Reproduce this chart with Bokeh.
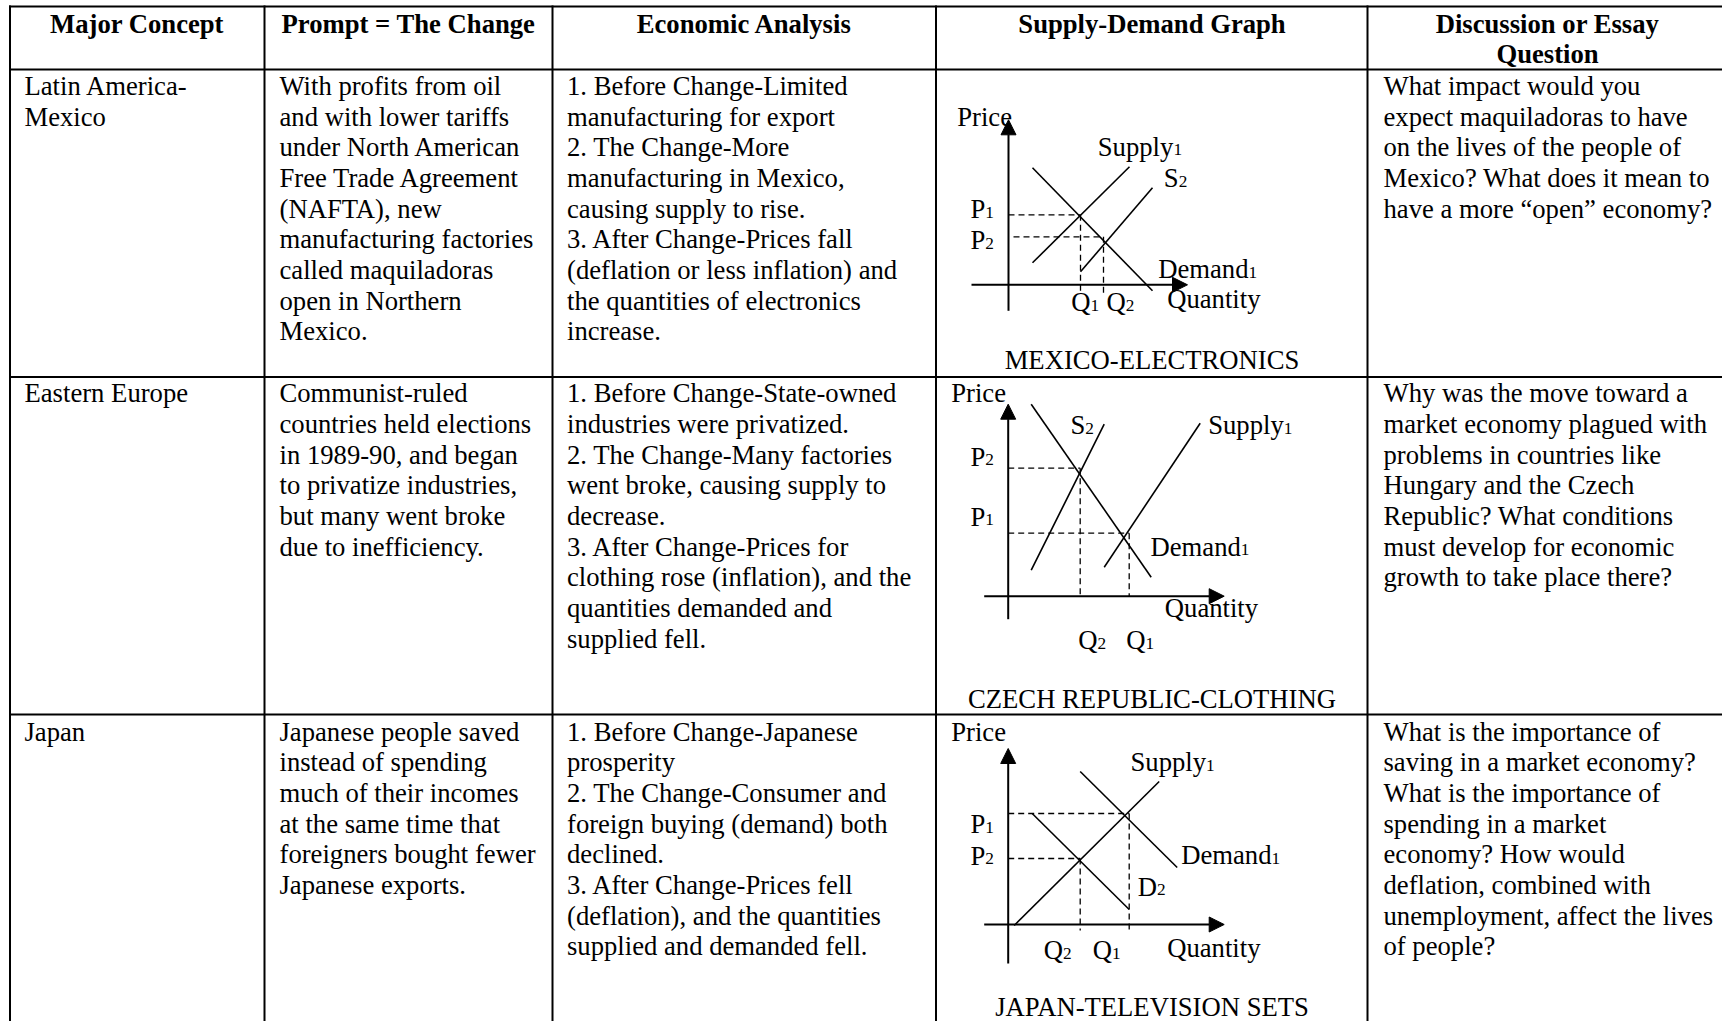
from bokeh.plotting import figure
from bokeh.models import Range1d, Arrow, NormalHead
from bokeh.core.properties import value
from bokeh.embed import file_html
from bokeh.resources import INLINE

# ---------------- table text ----------------
headers = [["Major Concept"], ["Prompt = The Change"], ["Economic Analysis"],
           ["Supply-Demand Graph"], ["Discussion or Essay", "Question"]]

concepts = [["Latin America-", "Mexico"], ["Eastern Europe"], ["Japan"]]

prompts = [
    ["With profits from oil", "and with lower tariffs", "under North American",
     "Free Trade Agreement", "(NAFTA), new", "manufacturing factories",
     "called maquiladoras", "open in Northern", "Mexico."],
    ["Communist-ruled", "countries held elections", "in 1989-90, and began",
     "to privatize industries,", "but many went broke", "due to inefficiency."],
    ["Japanese people saved", "instead of spending", "much of their incomes",
     "at the same time that", "foreigners bought fewer", "Japanese exports."],
]

analysis = [
    ["1. Before Change-Limited", "manufacturing for export", "2. The Change-More",
     "manufacturing in Mexico,", "causing supply to rise.", "3. After Change-Prices fall",
     "(deflation or less inflation) and", "the quantities of electronics", "increase."],
    ["1. Before Change-State-owned", "industries were privatized.",
     "2. The Change-Many factories", "went broke, causing supply to", "decrease.",
     "3. After Change-Prices for", "clothing rose (inflation), and the",
     "quantities demanded and", "supplied fell."],
    ["1. Before Change-Japanese", "prosperity", "2. The Change-Consumer and",
     "foreign buying (demand) both", "declined.", "3. After Change-Prices fell",
     "(deflation), and the quantities", "supplied and demanded fell."],
]

questions = [
    ["What impact would you", "expect maquiladoras to have", "on the lives of the people of",
     "Mexico? What does it mean to", "have a more \u201copen\u201d economy?"],
    ["Why was the move toward a", "market economy plagued with", "problems in countries like",
     "Hungary and the Czech", "Republic? What conditions", "must develop for economic",
     "growth to take place there?"],
    ["What is the importance of", "saving in a market economy?", "What is the importance of",
     "spending in a market", "economy? How would", "deflation, combined with",
     "unemployment, affect the lives", "of people?"],
]

graph_titles = ["MEXICO-ELECTRONICS", "CZECH REPUBLIC-CLOTHING", "JAPAN-TELEVISION SETS"]

# ---------------- graph data (quantity, price) in graph units ----------------
# Mexico - electronics: supply rises
mex_supply1 = [(24, 22), (121, 118)]
mex_supply2 = [(72, 13), (144, 97)]
mex_demand1 = [(24, 117), (144, -6)]
mex_P = [70, 48]          # P1, P2
mex_Q = [72, 95]          # Q1, Q2

# Czech Republic - clothing: supply falls
cz_supply1 = [(96, 29), (192, 173)]
cz_supply2 = [(23, 26), (96, 172)]
cz_demand1 = [(23, 192), (143, 19)]
cz_P = [63, 128]          # P1, P2
cz_Q = [121, 72]          # Q1, Q2

# Japan - television sets: demand falls
jp_supply1 = [(6, -1), (151, 143)]
jp_demand1 = [(72, 153), (169, 57)]
jp_demand2 = [(24, 111), (121, 15)]
jp_P = [111, 66]          # P1, P2
jp_Q = [121, 72]          # Q1, Q2

# ---------------- figure ----------------
FONT = "Liberation Serif"
FS = 26.67
SUB = 17.3
DY = -9  # baseline correction for rendered text

p = figure(width=1722, height=1021, x_range=Range1d(0, 1722), y_range=Range1d(1021, 0),
           toolbar_location=None, output_backend="svg", min_border=0,
           x_axis_type=None, y_axis_type=None)
p.outline_line_color = None
p.background_fill_color = "white"
p.border_fill_color = "white"

# table grid
col_x = [9.5, 264, 552, 935.5, 1367]
row_y = [6, 69, 376.5, 714]
p.segment(x0=[col_x[0] - 1] * len(row_y), y0=row_y, x1=[1722] * len(row_y), y1=row_y,
          line_color="black", line_width=2)
p.segment(x0=col_x, y0=[5] * len(col_x), x1=col_x, y1=[1021] * len(col_x),
          line_color="black", line_width=2)


def txt(xs, ys, texts, size=FS, align="left", style="normal"):
    p.text(x=xs, y=[y + DY for y in ys], text=texts, text_font=value(FONT),
           text_font_size=value(f"{size}px"),
           text_baseline="alphabetic", text_align=align, text_font_style=style,
           text_color="black")


LH = 30.67
# headers
hdr_cx = [136.5, 408, 744, 1151.5, 1547]
hx, hy, ht = [], [], []
for cx, lines in zip(hdr_cx, headers):
    for i, s in enumerate(lines):
        hx.append(cx); hy.append(32.3 + i * LH); ht.append(s)
txt(hx, hy, ht, align="center", style="bold")

# body cells
text_x = [24, 279, 566.5, None, 1383]
first_base = [94.5, 401.7, 740]
bx, by, bt = [], [], []
for r in range(3):
    for col, data in zip([0, 1, 2, 4], [concepts, prompts, analysis, questions]):
        for i, s in enumerate(data[r]):
            bx.append(text_x[col]); by.append(first_base[r] + i * LH); bt.append(s)
txt(bx, by, bt)

# graph titles
txt([1151.5] * 3, [368.3, 707.3, 1015], graph_titles, align="center")

# ---------------- graphs ----------------
W = {"Supply": 2834, "S": 556, "P": 556, "Q": 722, "D": 722, "Demand": 3388}


def label(name, sub, x, y):
    txt([x], [y], [name])
    if sub:
        txt([x + W[name] / 1000 * FS], [y + 3.3], [sub], size=SUB)


def draw_graph(ox, oy, curves, P, Q, pdash_start, qdash_end, yax, xax):
    X = lambda q: ox + q
    Y = lambda pr: oy - pr
    # axes with arrows
    for (qa, pa), (qb, pb) in [yax, xax]:
        p.add_layout(Arrow(end=NormalHead(size=15, fill_color="black", line_color="black",
                                          line_width=1),
                           x_start=X(qa), y_start=Y(pa), x_end=X(qb), y_end=Y(pb),
                           line_color="black", line_width=2))
    # curves
    p.segment(x0=[X(c[0][0]) for c in curves], y0=[Y(c[0][1]) for c in curves],
              x1=[X(c[1][0]) for c in curves], y1=[Y(c[1][1]) for c in curves],
              line_color="black", line_width=1.6)
    # dashed guides
    p.segment(x0=[X(s) for s in pdash_start], y0=[Y(v) for v in P],
              x1=[X(q) for q in Q], y1=[Y(v) for v in P],
              line_color="black", line_width=1.3, line_dash="6 4")
    p.segment(x0=[X(q) for q in Q], y0=[Y(v) for v in P],
              x1=[X(q) for q in Q], y1=[Y(e) for e in qdash_end],
              line_color="black", line_width=1.3, line_dash="6 4")


# Mexico
draw_graph(1008, 284.3, [mex_supply1, mex_supply2, mex_demand1], mex_P, mex_Q,
           [0, 5], [-6, -9], [(0, -26), (0, 165)], [(-37, 0), (179, 0)])
label("Price", None, 956.7, 125)
label("Supply", "1", 1097.3, 155)
label("S", "2", 1163.3, 186.7)
label("P", "1", 970, 217.7)
label("P", "2", 970, 248.3)
label("Demand", "1", 1157.7, 277.3)
label("Q", "1", 1070.7, 310.7)
label("Q", "2", 1106, 310.7)
label("Quantity", None, 1166.7, 307.3)

# Czech Republic
draw_graph(1007.7, 595.7, [cz_supply1, cz_supply2, cz_demand1], cz_P, cz_Q,
           [0, 0], [0, -1], [(0, -23), (0, 192)], [(-24, 0), (216, 0)])
label("Price", None, 950.7, 401.7)
label("S", "2", 1070, 433.3)
label("Supply", "1", 1207.7, 433.3)
label("P", "2", 970, 465)
label("P", "1", 970, 525)
label("Demand", "1", 1150, 555)
label("Quantity", None, 1164.3, 616.7)
label("Q", "2", 1077.7, 648.3)
label("Q", "1", 1125.7, 648.3)

# Japan
draw_graph(1007.7, 924, [jp_supply1, jp_demand1, jp_demand2], jp_P, jp_Q,
           [0, 0], [-8, -6], [(0, -39), (0, 176)], [(-24, 0), (216, 0)])
label("Price", None, 950.7, 740.7)
label("Supply", "1", 1130, 770.7)
label("P", "1", 970, 832.7)
label("P", "2", 970, 864)
label("Demand", "1", 1180.7, 863.3)
label("D", "2", 1137.3, 895)
label("Q", "2", 1043.3, 958.3)
label("Q", "1", 1092.3, 958.3)
label("Quantity", None, 1166.7, 956.7)

open("out.html", "w").write(file_html(p, INLINE))
